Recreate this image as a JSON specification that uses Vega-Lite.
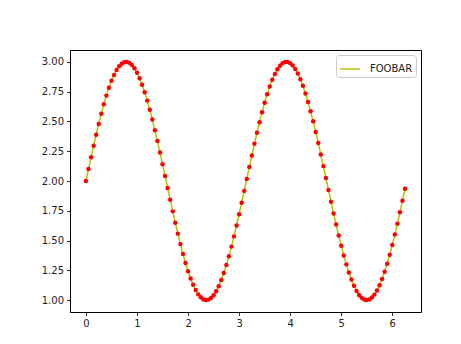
{
  "$schema": "https://vega.github.io/schema/vega-lite/v6.json",
  "autosize": "none",
  "width": 351,
  "height": 262,
  "padding": {"left": 70, "top": 50, "right": 40, "bottom": 32},
  "background": "white",
  "config": {
    "font": "DejaVu Sans",
    "view": {"stroke": "#000000", "strokeWidth": 1},
    "axis": {"domain": false, "grid": false, "tickColor": "#000", "tickSize": 3.5, "tickWidth": 0.8, "labelFontSize": 10, "labelColor": "#222", "labelPadding": 3, "title": null}
  },
  "data": {"values": [
    {"x":0.00,"y":2.000},{"x":0.05,"y":2.100},{"x":0.10,"y":2.199},{"x":0.15,"y":2.296},{"x":0.20,"y":2.389},
    {"x":0.25,"y":2.479},{"x":0.30,"y":2.565},{"x":0.35,"y":2.644},{"x":0.40,"y":2.717},{"x":0.45,"y":2.783},
    {"x":0.50,"y":2.841},{"x":0.55,"y":2.891},{"x":0.60,"y":2.932},{"x":0.65,"y":2.964},{"x":0.70,"y":2.985},
    {"x":0.75,"y":2.997},{"x":0.80,"y":3.000},{"x":0.85,"y":2.992},{"x":0.90,"y":2.974},{"x":0.95,"y":2.946},
    {"x":1.00,"y":2.909},{"x":1.05,"y":2.863},{"x":1.10,"y":2.808},{"x":1.15,"y":2.746},{"x":1.20,"y":2.675},
    {"x":1.25,"y":2.598},{"x":1.30,"y":2.516},{"x":1.35,"y":2.427},{"x":1.40,"y":2.335},{"x":1.45,"y":2.239},
    {"x":1.50,"y":2.141},{"x":1.55,"y":2.042},{"x":1.60,"y":1.942},{"x":1.65,"y":1.842},{"x":1.70,"y":1.745},
    {"x":1.75,"y":1.649},{"x":1.80,"y":1.558},{"x":1.85,"y":1.470},{"x":1.90,"y":1.388},{"x":1.95,"y":1.312},
    {"x":2.00,"y":1.243},{"x":2.05,"y":1.182},{"x":2.10,"y":1.128},{"x":2.15,"y":1.084},{"x":2.20,"y":1.048},
    {"x":2.25,"y":1.023},{"x":2.30,"y":1.006},{"x":2.35,"y":1.000},{"x":2.40,"y":1.004},{"x":2.45,"y":1.018},
    {"x":2.50,"y":1.041},{"x":2.55,"y":1.074},{"x":2.60,"y":1.117},{"x":2.65,"y":1.168},{"x":2.70,"y":1.227},
    {"x":2.75,"y":1.295},{"x":2.80,"y":1.369},{"x":2.85,"y":1.449},{"x":2.90,"y":1.535},{"x":2.95,"y":1.626},
    {"x":3.00,"y":1.721},{"x":3.05,"y":1.818},{"x":3.10,"y":1.917},{"x":3.15,"y":2.017},{"x":3.20,"y":2.117},
    {"x":3.25,"y":2.215},{"x":3.30,"y":2.312},{"x":3.35,"y":2.405},{"x":3.40,"y":2.494},{"x":3.45,"y":2.578},
    {"x":3.50,"y":2.657},{"x":3.55,"y":2.729},{"x":3.60,"y":2.794},{"x":3.65,"y":2.850},{"x":3.70,"y":2.899},
    {"x":3.75,"y":2.938},{"x":3.80,"y":2.968},{"x":3.85,"y":2.988},{"x":3.90,"y":2.999},{"x":3.95,"y":2.999},
    {"x":4.00,"y":2.989},{"x":4.05,"y":2.970},{"x":4.10,"y":2.941},{"x":4.15,"y":2.902},{"x":4.20,"y":2.855},
    {"x":4.25,"y":2.799},{"x":4.30,"y":2.734},{"x":4.35,"y":2.663},{"x":4.40,"y":2.585},{"x":4.45,"y":2.501},
    {"x":4.50,"y":2.412},{"x":4.55,"y":2.319},{"x":4.60,"y":2.223},{"x":4.65,"y":2.125},{"x":4.70,"y":2.025},
    {"x":4.75,"y":1.925},{"x":4.80,"y":1.826},{"x":4.85,"y":1.728},{"x":4.90,"y":1.634},{"x":4.95,"y":1.543},
    {"x":5.00,"y":1.456},{"x":5.05,"y":1.375},{"x":5.10,"y":1.300},{"x":5.15,"y":1.232},{"x":5.20,"y":1.172},
    {"x":5.25,"y":1.120},{"x":5.30,"y":1.077},{"x":5.35,"y":1.043},{"x":5.40,"y":1.019},{"x":5.45,"y":1.005},
    {"x":5.50,"y":1.000},{"x":5.55,"y":1.006},{"x":5.60,"y":1.021},{"x":5.65,"y":1.046},{"x":5.70,"y":1.081},
    {"x":5.75,"y":1.125},{"x":5.80,"y":1.177},{"x":5.85,"y":1.238},{"x":5.90,"y":1.306},{"x":5.95,"y":1.380},
    {"x":6.00,"y":1.463},{"x":6.05,"y":1.550},{"x":6.10,"y":1.642},{"x":6.15,"y":1.737},{"x":6.20,"y":1.835},
    {"x":6.25,"y":1.934}
  ]},
  "encoding": {
    "x": {"field": "x", "type": "quantitative", "scale": {"domain": [-0.3125, 6.5625], "nice": false, "zero": false}, "axis": {"values": [0,1,2,3,4,5,6], "format": "d"}},
    "y": {"field": "y", "type": "quantitative", "scale": {"domain": [0.9, 3.1], "nice": false, "zero": false}, "axis": {"values": [1.0,1.25,1.5,1.75,2.0,2.25,2.5,2.75,3.0], "format": ".2f"}}
  },
  "layer": [
    {
      "mark": {"type": "line", "strokeWidth": 1.5},
      "encoding": {
        "color": {"datum": "FOOBAR", "type": "nominal", "scale": {"range": ["#bfbf00"]},
          "legend": {"title": null, "orient": "top-right", "offset": 5, "symbolType": "stroke", "symbolSize": 400, "symbolStrokeWidth": 1.5, "labelFontSize": 10, "labelColor": "#222", "strokeColor": "#cccccc", "fillColor": "white", "padding": 3, "cornerRadius": 3, "labelOffset": 9}}
      }
    },
    {
      "mark": {"type": "point", "filled": true, "shape": "circle", "size": 20, "color": "#ff0000", "opacity": 1}
    }
  ]
}
